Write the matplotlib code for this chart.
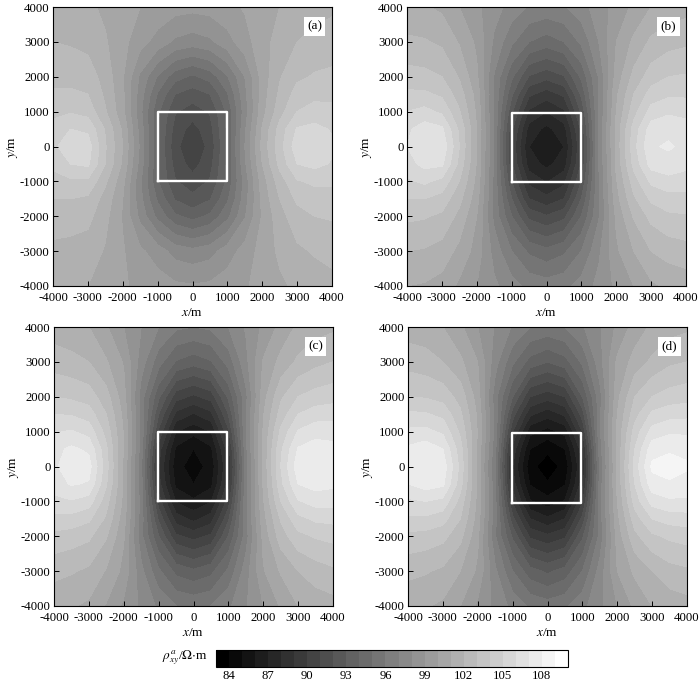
import numpy as np
import matplotlib
matplotlib.use("Agg")
import matplotlib.pyplot as plt
from matplotlib.cm import ScalarMappable
from matplotlib.colors import BoundaryNorm

plt.rcParams['font.family'] = ['Liberation Serif', 'DejaVu Serif']
plt.rcParams['mathtext.fontset'] = 'stix'
plt.rcParams['axes.unicode_minus'] = False

# Grid nodes, m
x_nodes = [-4000, -3500, -3000, -2500, -2000, -1500, -1000, -500, 0, 500, 1000, 1500, 2000, 2500, 3000, 3500, 4000]
y_nodes = [4000, 3000, 2000, 1500, 1000, 500, 0, -500, -1000, -1500, -2000, -3000, -4000]

# Apparent resistivity, ohm m (rows follow y_nodes)
rho_a = [
    [101.2, 101.2, 101.2, 100.8, 100.3, 100.0, 99.7, 99.4, 99.3, 99.4, 99.7, 100.1, 100.5, 101.0, 101.4, 101.6, 101.8],
    [102.0, 101.9, 101.7, 101.1, 100.3, 99.4, 98.6, 97.8, 97.5, 97.8, 98.6, 99.6, 100.6, 101.4, 102.0, 102.3, 102.5],
    [102.6, 102.6, 102.5, 101.6, 100.1, 97.8, 95.9, 94.4, 93.8, 94.4, 95.9, 98.0, 100.4, 101.9, 102.8, 103.1, 103.2],
    [103.2, 103.2, 103.0, 101.8, 100.2, 97.5, 94.9, 93.0, 92.5, 93.0, 94.9, 97.7, 100.5, 102.2, 103.4, 103.7, 103.7],
    [103.7, 103.9, 103.6, 102.1, 100.3, 97.3, 94.2, 92.1, 91.5, 92.1, 94.2, 97.5, 100.6, 102.6, 104.0, 104.4, 104.3],
    [104.4, 105.0, 104.8, 102.9, 100.8, 97.6, 94.1, 91.6, 90.6, 91.6, 94.2, 97.8, 101.1, 103.4, 105.1, 105.3, 104.9],
    [104.7, 105.8, 105.5, 103.1, 101.0, 97.8, 94.1, 91.3, 90.2, 91.3, 94.1, 98.0, 101.3, 103.6, 105.6, 105.7, 105.2],
    [104.3, 105.0, 105.2, 103.0, 100.8, 97.6, 94.1, 91.6, 90.6, 91.6, 94.2, 97.8, 101.0, 103.3, 105.0, 105.3, 104.9],
    [103.5, 103.8, 103.8, 102.2, 100.3, 97.2, 94.1, 92.1, 91.4, 92.1, 94.2, 97.4, 100.5, 102.5, 103.9, 104.2, 104.2],
    [103.0, 103.0, 102.8, 101.6, 100.0, 97.3, 94.8, 92.9, 92.3, 92.9, 94.8, 97.5, 100.3, 102.0, 103.2, 103.5, 103.5],
    [102.4, 102.4, 102.3, 101.3, 99.9, 97.7, 95.7, 94.2, 93.6, 94.2, 95.7, 97.9, 100.1, 101.6, 102.6, 103.0, 103.1],
    [101.8, 101.7, 101.5, 100.9, 100.1, 99.2, 98.5, 97.6, 97.3, 97.6, 98.5, 99.4, 100.4, 101.2, 101.8, 102.1, 102.3],
    [101.1, 101.0, 101.0, 100.6, 100.1, 99.8, 99.5, 99.2, 99.1, 99.2, 99.5, 99.9, 100.3, 100.8, 101.2, 101.5, 101.7],
]
rho_b = [
    [101.2, 101.1, 100.8, 100.0, 99.2, 98.4, 97.6, 96.9, 96.7, 96.9, 97.6, 98.5, 99.4, 100.2, 101.0, 101.4, 101.6],
    [102.2, 102.1, 101.8, 100.9, 99.8, 97.8, 96.2, 95.0, 94.5, 95.0, 96.2, 98.0, 100.0, 101.2, 102.2, 102.6, 102.8],
    [103.4, 103.3, 103.0, 101.9, 100.2, 96.9, 94.2, 91.9, 91.3, 91.9, 94.2, 97.1, 100.4, 102.3, 103.5, 104.0, 104.1],
    [104.2, 104.2, 103.8, 102.5, 100.6, 96.9, 93.2, 90.2, 89.5, 90.2, 93.2, 97.1, 100.8, 103.0, 104.4, 104.8, 104.8],
    [105.0, 105.3, 104.8, 103.1, 100.8, 96.8, 92.2, 88.8, 88.0, 88.8, 92.2, 97.0, 101.0, 103.6, 105.4, 105.8, 105.7],
    [105.8, 106.5, 106.2, 103.8, 101.0, 96.9, 91.2, 87.6, 86.7, 87.6, 91.2, 97.1, 101.3, 104.4, 106.5, 106.8, 106.4],
    [106.0, 107.0, 106.8, 104.0, 101.0, 96.8, 90.8, 87.0, 86.0, 87.0, 90.8, 97.0, 101.3, 104.6, 106.9, 107.1, 106.8],
    [105.6, 106.3, 106.2, 103.7, 100.9, 96.8, 91.1, 87.5, 86.7, 87.5, 91.1, 97.0, 101.2, 104.3, 106.4, 106.7, 106.3],
    [104.8, 105.2, 104.7, 103.0, 100.7, 96.7, 92.0, 88.7, 87.9, 88.7, 92.0, 96.9, 100.9, 103.5, 105.2, 105.6, 105.5],
    [104.0, 104.0, 103.6, 102.3, 100.4, 96.7, 93.0, 90.0, 89.3, 90.0, 93.0, 96.9, 100.6, 102.8, 104.2, 104.6, 104.6],
    [103.2, 103.1, 102.8, 101.7, 100.0, 96.7, 94.0, 91.7, 91.1, 91.7, 94.0, 96.9, 100.2, 102.1, 103.3, 103.8, 103.9],
    [102.0, 101.9, 101.6, 100.7, 99.6, 97.6, 96.0, 94.8, 94.3, 94.8, 96.0, 97.8, 99.8, 101.0, 102.0, 102.4, 102.6],
    [101.0, 100.9, 100.6, 99.8, 99.0, 98.2, 97.4, 96.7, 96.5, 96.7, 97.4, 98.3, 99.2, 100.0, 100.8, 101.2, 101.4],
]
rho_c = [
    [101.5, 101.3, 101.0, 100.1, 99.0, 98.0, 97.0, 96.2, 96.0, 96.2, 97.0, 98.1, 99.2, 100.3, 101.2, 101.6, 101.8],
    [102.5, 102.3, 102.0, 101.1, 99.9, 97.5, 95.4, 93.9, 93.4, 93.9, 95.4, 97.7, 100.1, 101.3, 102.2, 102.7, 103.0],
    [104.0, 103.8, 103.5, 102.4, 100.4, 96.5, 93.2, 90.4, 89.8, 90.4, 93.2, 96.7, 100.6, 102.8, 104.0, 104.4, 104.6],
    [105.0, 104.9, 104.5, 103.0, 100.7, 96.7, 92.0, 88.7, 87.9, 88.7, 92.0, 96.9, 100.9, 103.4, 105.0, 105.5, 105.6],
    [105.9, 106.1, 105.6, 103.6, 100.9, 96.7, 90.8, 87.0, 86.3, 87.0, 90.8, 96.9, 101.1, 104.2, 106.1, 106.6, 106.6],
    [106.7, 107.2, 106.8, 104.2, 100.9, 96.5, 89.5, 85.8, 85.0, 85.8, 89.5, 96.7, 101.2, 104.8, 107.1, 107.5, 107.3],
    [106.8, 107.6, 107.4, 104.4, 100.8, 96.2, 89.0, 85.3, 84.6, 85.3, 89.0, 96.4, 101.2, 105.0, 107.6, 107.8, 107.6],
    [106.5, 107.1, 106.9, 104.1, 100.8, 96.4, 89.4, 85.7, 85.0, 85.7, 89.4, 96.6, 101.1, 104.7, 107.0, 107.4, 107.2],
    [105.7, 105.9, 105.5, 103.4, 100.7, 96.5, 90.5, 86.9, 86.2, 86.9, 90.5, 96.7, 100.9, 104.0, 105.9, 106.4, 106.4],
    [104.7, 104.6, 104.2, 102.8, 100.4, 96.5, 91.8, 88.5, 87.7, 88.5, 91.8, 96.7, 100.6, 103.1, 104.7, 105.2, 105.3],
    [103.7, 103.5, 103.2, 102.1, 100.1, 96.3, 93.0, 90.2, 89.6, 90.2, 93.0, 96.5, 100.3, 102.5, 103.7, 104.1, 104.3],
    [102.3, 102.1, 101.8, 100.9, 99.7, 97.3, 95.2, 93.7, 93.2, 93.7, 95.2, 97.5, 99.9, 101.1, 102.0, 102.5, 102.8],
    [101.3, 101.1, 100.8, 99.9, 98.8, 97.8, 96.8, 96.0, 95.8, 96.0, 96.8, 97.9, 99.0, 100.1, 101.0, 101.4, 101.6],
]
rho_d = [
    [101.5, 101.4, 101.0, 100.2, 99.0, 97.9, 96.9, 96.0, 95.7, 96.0, 96.9, 97.9, 99.2, 100.4, 101.2, 101.6, 101.8],
    [102.6, 102.4, 102.0, 101.2, 100.0, 97.4, 95.2, 93.6, 93.0, 93.6, 95.2, 97.6, 100.2, 101.4, 102.2, 102.8, 103.0],
    [104.0, 103.9, 103.6, 102.6, 100.5, 96.4, 93.0, 90.0, 89.4, 90.0, 93.0, 96.6, 100.7, 103.0, 104.0, 104.4, 104.6],
    [105.2, 105.1, 104.7, 103.2, 100.8, 96.6, 91.5, 88.2, 87.4, 88.2, 91.5, 96.8, 101.0, 103.6, 105.2, 105.6, 105.7],
    [106.2, 106.3, 105.8, 103.8, 100.9, 96.6, 90.0, 86.3, 85.6, 86.3, 90.0, 96.8, 101.2, 104.4, 106.4, 106.8, 106.8],
    [107.2, 107.6, 107.0, 104.4, 100.8, 96.3, 88.6, 85.0, 84.2, 85.0, 88.6, 96.5, 101.2, 105.0, 107.6, 107.9, 107.8],
    [107.4, 108.0, 107.6, 104.7, 100.6, 96.0, 88.0, 84.3, 83.5, 84.3, 88.0, 96.2, 101.2, 105.4, 108.2, 108.3, 108.1],
    [107.0, 107.5, 107.2, 104.4, 100.7, 96.2, 88.5, 84.9, 84.1, 84.9, 88.5, 96.4, 101.2, 105.0, 107.6, 107.9, 107.7],
    [105.8, 106.0, 105.7, 103.6, 100.7, 96.3, 89.8, 86.1, 85.4, 86.1, 89.8, 96.5, 101.0, 104.4, 106.4, 106.8, 106.8],
    [104.8, 104.8, 104.4, 103.0, 100.5, 96.3, 91.3, 88.0, 87.2, 88.0, 91.3, 96.5, 100.7, 103.5, 105.0, 105.4, 105.5],
    [103.7, 103.6, 103.3, 102.3, 100.2, 96.1, 92.8, 89.8, 89.2, 89.8, 92.8, 96.3, 100.4, 102.7, 103.8, 104.2, 104.4],
    [102.3, 102.1, 101.8, 101.0, 99.8, 97.2, 95.0, 93.4, 92.8, 93.4, 95.0, 97.4, 100.0, 101.2, 102.0, 102.6, 102.8],
    [101.2, 101.1, 100.8, 100.0, 98.8, 97.7, 96.7, 95.8, 95.5, 95.8, 96.7, 97.7, 99.0, 100.2, 101.0, 101.4, 101.6],
]

panel_labels = ['(a)', '(b)', '(c)', '(d)']
panel_data = [rho_a, rho_b, rho_c, rho_d]
# square outline of the body: x0, x1, y0, y1
squares = [
    [-1000, 1000, -1000, 1000],
    [-1000, 1000, -1030, 970],
    [-1030, 970, -1000, 1000],
    [-1030, 970, -1050, 950],
]
# axes boxes in pixels: left, top
boxes = [(53, 7), (407, 7), (54, 327), (408, 327)]
levels = np.arange(83, 111)
cbar_ticks = [84, 87, 90, 93, 96, 99, 102, 105, 108]
axis_ticks = np.arange(-4000, 4001, 1000)

W, H = 700, 684
fig = plt.figure(figsize=(W / 100, H / 100), dpi=100)
norm = BoundaryNorm(levels, 256)

for data, lab, sq, box in zip(panel_data, panel_labels, squares, boxes):
    ax = fig.add_axes([box[0] / W, 1 - (box[1] + 279) / H, 279 / W, 279 / H])
    ax.contourf(x_nodes, y_nodes, np.array(data), levels=levels, cmap='gray', norm=norm)
    ax.plot([sq[0], sq[1], sq[1], sq[0], sq[0]], [sq[2], sq[2], sq[3], sq[3], sq[2]], color='white', lw=1.7)
    ax.set_xlim(-4000, 4000)
    ax.set_ylim(-4000, 4000)
    ax.set_xticks(axis_ticks)
    ax.set_yticks(axis_ticks)
    ax.tick_params(direction='in', length=3.5, width=0.7, labelsize=9.2)
    ax.tick_params(axis='x', pad=4)
    ax.tick_params(axis='y', pad=2.5)
    ax.set_xlabel(r'$x$/m', fontsize=9.5, labelpad=2.5)
    ax.set_ylabel(r'$y$/m', fontsize=9.5, labelpad=0)
    ax.text(3500, 3450, lab, fontsize=9.5, ha='center', va='center',
            bbox=dict(facecolor='white', edgecolor='none', pad=2.5))
    for s in ax.spines.values():
        s.set_linewidth(0.8)

# colour scale at the bottom
cax = fig.add_axes([216 / W, 1 - 667 / H, 352 / W, 17 / H])
cb = fig.colorbar(ScalarMappable(norm=norm, cmap='gray'), cax=cax, orientation='horizontal', spacing='proportional')
cb.set_ticks(cbar_ticks)
cb.ax.minorticks_off()
cb.ax.tick_params(which='both', length=0, labelsize=9.2, pad=2)
cb.outline.set_linewidth(0.8)
fig.text(208 / W, 1 - 658 / H, r'$\rho^{a}_{xy}$/$\Omega$$\cdot$m', fontsize=9.5, ha='right', va='center')

plt.savefig('out.png', dpi=100)
